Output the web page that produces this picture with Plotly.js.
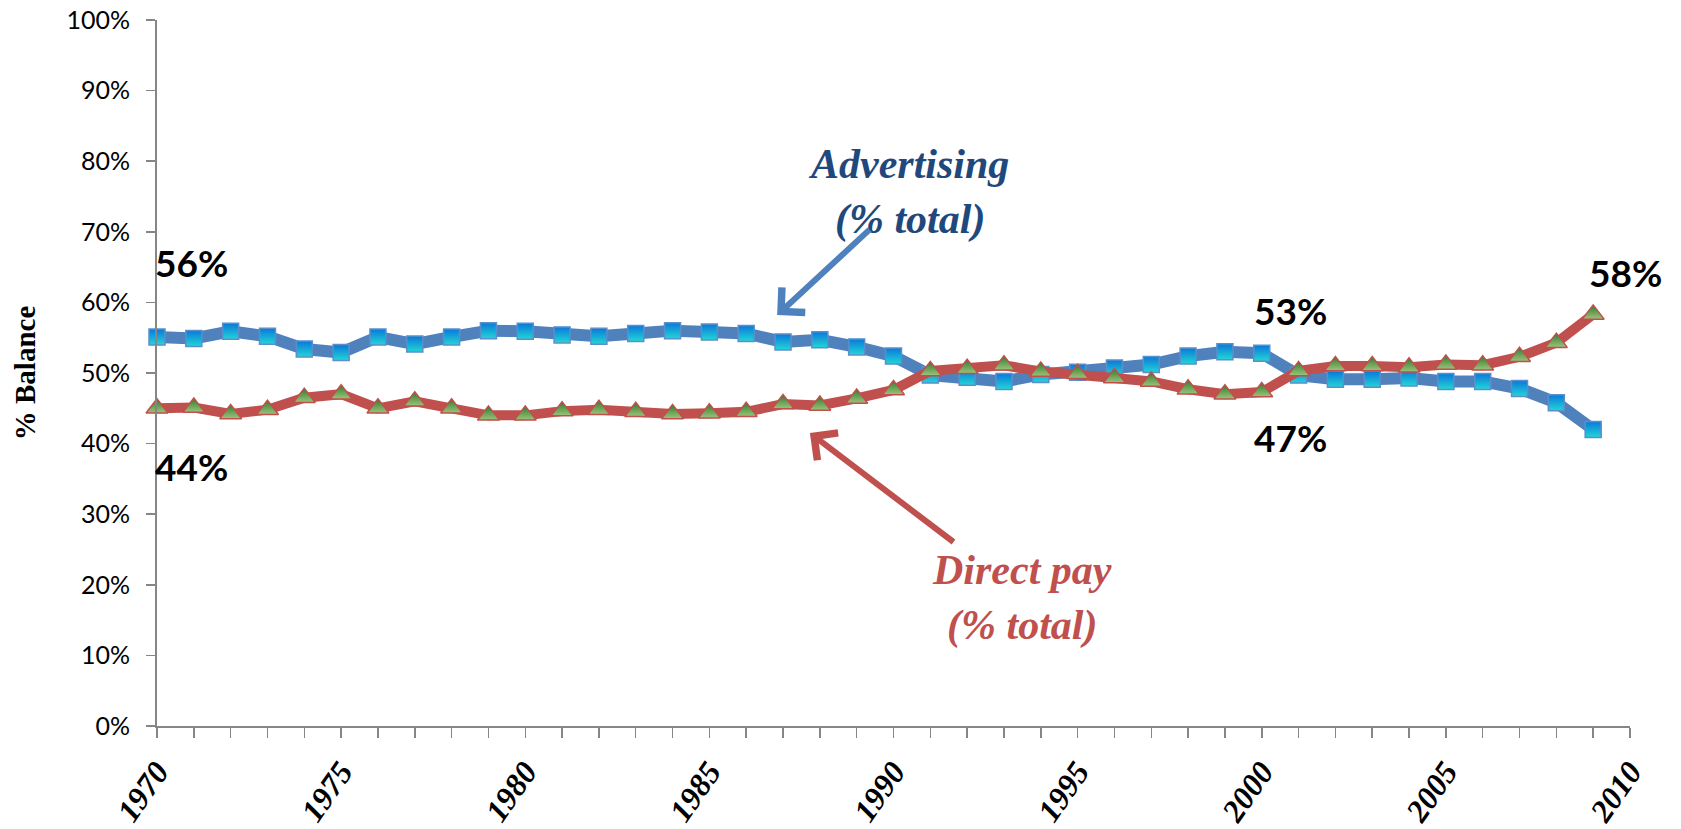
<!DOCTYPE html>
<html>
<head>
<meta charset="utf-8">
<script src="https://cdn.plot.ly/plotly-3.0.1.min.js"></script>
<style>
  html, body { margin: 0; padding: 0; background: #ffffff; }
  #chart { width: 1681px; height: 829px; }
</style>
</head>
<body>
<div id="chart"></div>
<script>
// ---- Data ----
var years = [1970,1971,1972,1973,1974,1975,1976,1977,1978,1979,
             1980,1981,1982,1983,1984,1985,1986,1987,1988,1989,
             1990,1991,1992,1993,1994,1995,1996,1997,1998,1999,
             2000,2001,2002,2003,2004,2005,2006,2007,2008,2009];

var advertising = [55.1,54.9,55.9,55.2,53.4,52.9,55.1,54.1,55.1,56.0,
                   55.9,55.4,55.2,55.6,56.0,55.8,55.6,54.4,54.7,53.7,
                   52.4,49.7,49.4,48.8,49.8,50.1,50.7,51.2,52.4,53.0,
                   52.8,49.7,49.1,49.1,49.3,48.8,48.8,47.8,45.8,42.0];

var directPay   = [45.0,45.1,44.2,44.8,46.5,47.0,45.0,46.0,45.0,44.0,
                   44.0,44.6,44.8,44.5,44.2,44.3,44.5,45.6,45.4,46.4,
                   47.6,50.3,50.6,51.1,50.2,49.9,49.3,48.8,47.7,47.0,
                   47.3,50.3,51.0,51.0,50.8,51.2,51.1,52.3,54.3,58.3];

var yTickVals = [0,10,20,30,40,50,60,70,80,90,100];
var yTickText = ['0%','10%','20%','30%','40%','50%','60%','70%','80%','90%','100%'];
var xTickVals = [1970,1975,1980,1985,1990,1995,2000,2005,2010];
var xTickText = ['1970','1975','1980','1985','1990','1995','2000','2005','2010'];

var labelText = ['56%','44%','53%','47%','58%','42%'];
var labelX    = [1970.94,1970.94,2000.79,2000.79,2009.88,2010.04];
var labelY    = [65.6,36.8,58.9,40.8,64.2,34.6];

var seriesNames = ['Advertising<br>(% total)', 'Direct pay<br>(% total)'];

// ---- Traces ----
var traces = [
  {
    x: years, y: advertising, type: 'scatter', mode: 'lines+markers',
    name: 'Advertising',
    line: { color: '#4F81BD', width: 12 },
    marker: {
      symbol: 'square', size: 16, color: '#0A78DA',
      gradient: { type: 'vertical', color: '#22D6D6' },
      line: { color: '#5B8FCB', width: 1.5 }
    },
    cliponaxis: false, hoverinfo: 'skip'
  },
  {
    x: years, y: directPay, type: 'scatter', mode: 'lines+markers',
    name: 'Direct pay',
    line: { color: '#C0504D', width: 10 },
    marker: {
      symbol: 'triangle-up', size: 19, color: '#2E7A2E',
      gradient: { type: 'vertical', color: '#9CC47A' },
      line: { color: '#C0504D', width: 1.5 }
    },
    cliponaxis: false, hoverinfo: 'skip'
  }
];

// ---- Annotations ----
var annotations = [];
for (var i = 0; i < labelText.length; i++) {
  annotations.push({
    x: labelX[i], y: labelY[i], xref: 'x', yref: 'y',
    text: labelText[i], showarrow: false,
    font: { family: 'Lato, Arial, sans-serif', size: 37, color: '#000000', weight: 'bold' },
    xanchor: 'center', yanchor: 'middle'
  });
}
// series labels
annotations.push({
  x: 1990.4, y: 75.6, xref: 'x', yref: 'y', text: seriesNames[0], showarrow: false,
  font: { family: 'Liberation Serif, Times New Roman, serif', size: 42, color: '#1F497D', weight: 'bold', style: 'italic' },
  xanchor: 'center', yanchor: 'middle'
});
annotations.push({
  x: 1993.5, y: 18.2, xref: 'x', yref: 'y', text: seriesNames[1], showarrow: false,
  font: { family: 'Liberation Serif, Times New Roman, serif', size: 42, color: '#C0504D', weight: 'bold', style: 'italic' },
  xanchor: 'center', yanchor: 'middle'
});
// arrows
annotations.push({
  x: 1986.84, y: 58.2, ax: 1989.39, ay: 70.5, xref: 'x', yref: 'y', axref: 'x', ayref: 'y',
  text: '', showarrow: true, arrowhead: 4, arrowsize: 1.1, arrowwidth: 6, arrowcolor: '#4F81BD'
});
annotations.push({
  x: 1987.73, y: 41.5, ax: 1991.67, ay: 25.9, xref: 'x', yref: 'y', axref: 'x', ayref: 'y',
  text: '', showarrow: true, arrowhead: 4, arrowsize: 1.1, arrowwidth: 6, arrowcolor: '#C0504D'
});

var layout = {
  width: 1681, height: 829,
  margin: { l: 157, r: 51, t: 20, b: 103, pad: 0 },
  paper_bgcolor: '#ffffff', plot_bgcolor: '#ffffff',
  showlegend: false,
  xaxis: {
    range: [1970, 2010], showgrid: false, zeroline: false,
    showline: true, linecolor: '#868686', linewidth: 2,
    tickmode: 'array', tickvals: xTickVals, ticktext: xTickText,
    ticks: 'outside', ticklen: 10, tickwidth: 1.5, tickcolor: '#868686',
    tickangle: -55, ticklabelstandoff: 2,
    minor: { dtick: 1, ticks: 'outside', ticklen: 10, tickwidth: 1.5, tickcolor: '#868686', showgrid: false },
    tickfont: { family: 'Liberation Serif, Times New Roman, serif', size: 32, color: '#000000', weight: 'bold', style: 'italic' },
    fixedrange: true
  },
  yaxis: {
    range: [0, 100], showgrid: false, zeroline: false,
    showline: true, linecolor: '#868686', linewidth: 2,
    tickmode: 'array', tickvals: yTickVals, ticktext: yTickText,
    ticks: 'outside', ticklen: 9, tickwidth: 1.5, tickcolor: '#868686',
    ticklabelstandoff: 11,
    tickfont: { family: 'Lato, Arial, sans-serif', size: 25, color: '#000000' },
    title: { text: '% Balance', standoff: 22,
      font: { family: 'Liberation Serif, Times New Roman, serif', size: 29, color: '#000000', weight: 'bold' } },
    fixedrange: true
  },
  annotations: annotations
};

Plotly.newPlot('chart', traces, layout, { displayModeBar: false, staticPlot: true });
</script>
</body>
</html>
